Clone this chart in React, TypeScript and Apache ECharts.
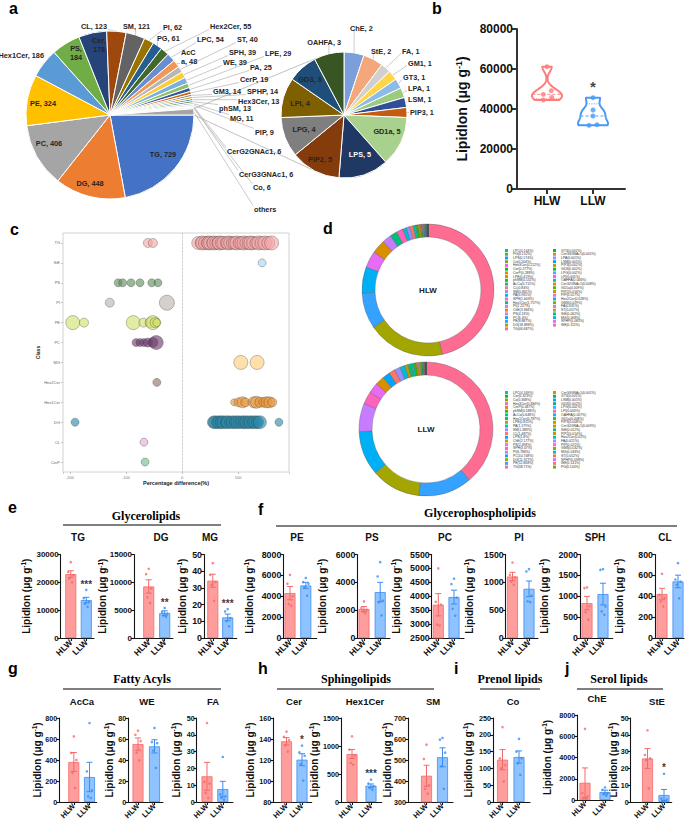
import React, { useEffect, useRef } from "react";
import * as echarts from "echarts";

const FONT = '"Liberation Sans", Arial, Helvetica, sans-serif';
const SERIF = '"Liberation Serif", "Times New Roman", serif';

// ================= DATA =================
// a. number of lipid species per class (pie of pie)
const pieClasses = ["TG","DG","PC","PE","Hex1Cer","PS","Cer","CL","SM","PI","PG","Hex2Cer","LPC","AcCa","ST","SPH","WE","LPE","PA","CerP","GM3","SPHP","Hex3Cer","phSM","MG","PIP","CerG2GNAc1","CerG3GNAc1","Co","others"];
const pieCounts = [729,448,406,324,186,184,178,123,121,62,61,55,54,48,40,39,39,29,25,19,14,14,13,13,11,9,6,6,6,39];
const subClasses = ["ChE","StE","FA","GM1","GT3","LPA","LSM","PIP3","GD1a","LPS","PIP2","LPG","LPI","GD3","OAHFA"];
const subCounts = [2,2,1,1,1,1,1,1,5,5,5,4,4,3,3];

// b. total lipid content
const groups = ["HLW","LLW"];
const totalHLW = [61150,49150,47330,45830,44500];
const totalLLW = [45670,39500,36500,32170,31830];
const totalTicks = [0,80000,20000];
const totalSig = "*";

// c. percentage difference per lipid species: [difference %, bubble size]
const diffClasses = ["TG","StE","PS","PI","PE","PC","MG","Hex2Cer","Hex1Cer","DG","CL","CerP"];
const bubTG = [[-61,9],[-52,9],[29,13],[34,12],[37,14],[41,13],[45,12],[48,14],[50,13],[55,12],[57,14],[61,13],[64,12],[67,14],[71,13],[74,13],[79,12],[83,14],[86,13],[90,12],[94,13],[98,14],[102,12],[106,13],[111,14],[114,12],[119,13],[123,14],[127,13],[132,12],[137,14],[142,13],[148,14],[154,13],[160,14]];
const bubStE = [[143,8]];
const bubPS = [[-114,8],[-106,8],[-91,8],[-75,8],[-54,8],[-43,8]];
const bubPI = [[-129,9],[-27,15]];
const bubPE = [[-195,14],[-175,9],[-87,14],[-69,9],[-57,10],[-52,14],[-48,10],[-45,8]];
const bubPC = [[-82,8],[-75,8],[-68,8],[-61,9],[-52,10],[-46,14]];
const bubMG = [[105,14],[134,14]];
const bubHex2Cer = [[-45,8]];
const bubHex1Cer = [[93,7],[101,9],[108,11],[113,9],[128,11],[133,12],[139,10],[146,10],[151,11],[156,11],[161,9]];
const bubDG = [[-191,8],[56,12],[59,13],[63,12],[67,13],[70,12],[74,13],[79,12],[82,13],[87,12],[91,13],[95,12],[99,13],[103,12],[108,13],[111,12],[115,13],[119,12],[123,13],[127,12],[131,13],[135,12],[139,13],[173,8]];
const bubCL = [[-68,8]];
const bubCerP = [[-66,8]];
const diffTicks = [-200,-100,0,100];

// d. composition (%) of lipid classes
const hlwNames = ["TG","DG","PE","PC","PS","ChE","PI","Hex1Cer","SPH","PA","SM","CL","AcCa","phSM","LPE","CerP","Cer","Hex3Cer","Co","LPS","PG","LPC","WE","SPHP","MG","StE","ST","FA","GM3","Hex2Cer","PIP","PIP2","GD1a","CerG2GNAc1","OAHFA","LPI","LPG","GD3","PIP3","LSM","LPA","CerG3GNAc1","GT3"];
const hlwPct = [46.687,18.888,8.887,6.4,4.13,3.384,2.227,1.757,1.603,0.935,0.861,0.84,0.715,0.532,0.419,0.288,0.277,0.212,0.204,0.174,0.152,0.144,0.111,0.085,0.068,0.062,0.057,0.031,0.029,0.028,0.017,0.016,0.009,0.008,0.006,0.005,0.002,0.002,0.002,0.001,0.001,0.001,0.001];
const llwNames = ["TG","PE","DG","PC","PI","SPH","PS","ChE","LPS","CL","SM","PA","LPE","Hex1Cer","AcCa","phSM","CerP","Hex3Cer","Co","Cer","LPC","PG","WE","SPHP","ST","MG","GM3","PIP","FA","Hex2Cer","PIP2","StE","CerG2GNAc1","PIP3","GD1a","OAHFA","LPI","LPG","GD3","LSM","GT3","CerG3GNAc1"];
const llwPct = [38.71,12.868,11.927,10.748,6.786,3.07,2.498,2.177,1.8,1.487,1.383,1.179,0.811,0.787,0.648,0.588,0.467,0.384,0.368,0.323,0.169,0.144,0.141,0.098,0.052,0.033,0.032,0.021,0.021,0.02,0.014,0.012,0.009,0.008,0.008,0.007,0.003,0.002,0.002,0.001,0.001,0.001];

// e-j. lipid classes, mean ± SEM with individual samples
const barClasses = ["TG","DG","MG","PE","PS","PC","PI","SPH","CL","AcCa","WE","FA","Cer","Hex1Cer","SM","Co","ChE","StE"];
const hlwMean = [22950,9260,34.3,4300,2080,3695,1105,837,421,381,55.2,15.3,137.8,857,425,126,1619,25.9];
const hlwSem = [1200,1200,3.9,640,180,400,75,160,55,90,5.8,8.3,3.5,80,50,30,1400,5.9];
const llwMean = [13625,4480,12.35,5035,3300,3970,884,1052,542,238,53,7.7,120.3,292,513,134,747,4.15];
const llwSem = [1000,400,2,300,700,250,140,260,60,140,6.3,4.6,5.7,30,45,18,180,3.3];
const hlwDots = [
  [27250,23700,22600,21300,20000],[12430,11470,8900,7300,6270],[44.8,37.8,33.5,31.9,22.3],
  [6050,5200,4000,3250,3100],[2630,2150,2030,1910,1790],[5000,3800,3700,2980,2950],
  [1356,1135,1088,1016,956],[1210,1195,760,620,440],[615,414,382,350,303],
  [625,467,400,276,135],[67.9,64,58,47,39.7],[47,12,11,5.4,2.4],
  [147,142,139,134,128],[1173,935,827,696,667],[573,505,380,363,340],
  [223,130,110,100,61.5],[6700,650,350,200,150],[42.7,28,26,25,8.1],
];
const llwDots = [
  [17300,14300,13000,12300,11200],[5400,4700,4400,4000,3800],[17.3,15.9,12,10,7],
  [5750,5350,5200,4850,4050],[5450,4420,2680,2580,1625],[4630,4440,3950,3550,3300],
  [1237,1195,760,660,645],[1650,1633,757,637,558],[717,560,540,510,380],
  [752,292,111,54,38],[70.5,57,56,49,32.4],[26.8,4.5,3.4,2.4,1.4],
  [133.7,127.3,124,116,100.3],[399,327,280,250,220],[605,597,535,470,363],
  [188,150,130,115,81],[1180,950,650,550,400],[16.8,2,1.5,0.5,0.2],
];
const sigMarks = ["***","**","***","","","","","","","","","","*","***","","","","*"];
const axisMin = [0,0,0,0,0,2500,0,0,0,0,0,0,80,0,300,0,0,0];
const axisMax = [30000,15000,50,8000,6000,5500,1500,2000,800,800,80,50,160,1500,700,250,8000,50];
const axisStep = [10000,5000,10,2000,2000,500,500,500,200,200,20,10,20,500,100,50,2000,10];

// ================= STYLE / LAYOUT =================
const pieColors = ["#4472C4","#ED7D31","#A5A5A5","#FFC000","#5B9BD5","#70AD47","#264478","#9E480E","#636363","#997300","#255E91","#43682B","#698ED0","#F1975A","#B7B7B7","#FFCD33","#7CAFDD","#8CC168","#335AA1","#D26012","#848484","#CC9A00","#327DC2","#5A8A39","#8FAADC","#F4B183","#C9C9C9","#FFD966","#9DC3E6","#A5A5A5"];
const subColors = ["#7A9FDB","#F4A77A","#D0D0D0","#FFD54A","#8DBBE8","#9CCB7D","#2F4F96","#C55A11","#A9D18E","#1F3864","#843C0C","#7F7F7F","#7F6000","#1F4E79","#375623"];
const diffColors = ["#F4A7A7","#A8D6F2","#5E8E5A","#BBB3AE","#D2E06C","#6A3A6A","#FFCB76","#8E6F66","#E9973B","#2A88A8","#E3A9D6","#6DBF88"];
const shareColor: Record<string, string> = {
  TG:"#FF6C91", DG:"#A3A500", PE:"#35A2FF", PC:"#00B0F6", PS:"#E76BF3", ChE:"#D89000", PI:"#C77CFF",
  Hex1Cer:"#00BF7D", SPH:"#FF62BC", PA:"#00BCD8", SM:"#9590FF", CL:"#F8766D", AcCa:"#00C1A3", phSM:"#39B600",
  LPE:"#BB9D00", CerP:"#E58700", Cer:"#00BA38", Hex3Cer:"#FD61D1", Co:"#7CAE00", LPS:"#00A5FF", PG:"#6BB100",
  LPC:"#00BFC4", WE:"#FF6A98", SPHP:"#DC71FA", MG:"#00B8E7", StE:"#00C08B", ST:"#E88526", FA:"#B385FF",
  GM3:"#8AAB00", Hex2Cer:"#00C0B8", PIP:"#EF67EB", PIP2:"#C09B00", GD1a:"#5EB300", CerG2GNAc1:"#D39200",
  OAHFA:"#00B6EB", LPI:"#FF64B0", LPG:"#4DA8FF", GD3:"#00BD5C", PIP3:"#C49A00", LSM:"#06A4FF", LPA:"#9F8CFF",
  CerG3GNAc1:"#DE8C00", GT3:"#00BB4E",
};
const HLW_FILL = "#FF9C9C", HLW_LINE = "#F46A6A", LLW_FILL = "#8EC3FF", LLW_LINE = "#3C8DF0";
const VIO_HLW = "#FF7C7C", VIO_LLW = "#4B9BF5";
const AX = "#151515";

const PIE_A = { cx: 110, cy: 115, r: 84 };
const PIE_B = { cx: 344, cy: 115, r: 63 };
const mainLabelAt: Record<string, [number, number, string]> = {
  TG:[163,154,"center"], DG:[90,183,"center"], PC:[49,143,"center"], PE:[43,103,"center"],
  Hex1Cer:[44,55,"right"], PS:[76,53,"center"], Cer:[99,45,"center"], CL:[107,26,"right"],
  SM:[123,26,"left"], PI:[163,27,"left"], PG:[157,38,"left"], Hex2Cer:[210,26,"left"], LPC:[197,39,"left"],
  AcCa:[181,57,"left"], ST:[237,39,"left"], SPH:[229,52,"left"], LPE:[265,53,"left"], WE:[223,62,"left"],
  PA:[250,67,"left"], CerP:[240,79,"left"], GM3:[213,91,"left"], SPHP:[247,91,"left"], Hex3Cer:[238,101,"left"],
  phSM:[219,108,"left"], MG:[230,118,"left"], PIP:[255,132,"left"], CerG2GNAc1:[227,151,"left"],
  CerG3GNAc1:[239,174,"left"], Co:[253,187,"left"], others:[254,209,"left"],
};
const subLabelAt: Record<string, [number, number, string]> = {
  ChE:[350,28,"left"], StE:[371,51,"left"], FA:[402,51,"left"], GM1:[408,63,"left"], GT3:[403,77,"left"],
  LPA:[408,88,"left"], LSM:[408,99,"left"], PIP3:[410,112,"left"], GD1a:[387,131,"center"], LPS:[360,154,"center"],
  PIP2:[320,159,"center"], LPG:[304,129,"center"], LPI:[300,103,"center"], GD3:[310,79,"center"], OAHFA:[341,42,"right"],
};
const noLine = new Set(["Hex1Cer"]);

// [y-axis x, HLW centre, LLW centre, x-axis end, axis-name centre x, subtitle x]
const barLayout = [
  [60.7,70.8,86.3,94,27,78],[134,148.7,164.7,173,103.5,161],[204,212.8,227.7,236.7,183,210],
  [283.3,290,305.8,316.7,250,297],[357.3,364,380.2,390,323,372],[431.7,438.3,454,464,397,445],
  [505.7,512.5,529,538,470,519],[580,587,603,612.7,545,595],[655,662,678,684,620,665],
  [59.3,73.8,89.5,96.7,38,82],[128.3,138,154.5,163,110,147],[196.7,207,222.8,233,177,213],
  [273.3,286.5,302,311.7,251,294],[341,352,371,381.7,315,365],[408,426.5,442.5,453,388,433],
  [493,502.5,519,530,469,513],[577.3,585,605,613,548,597],[630.7,647.5,664,671.7,614,657],
];
const dotJit = [0,-2.6,2.6,-1.3,1.3];
const vioJitHLW = [0,4.3,-3.7,4.7,-3.7];
const vioJitLLW = [0,0,0,4,-4];
const BW = 2500;
const HALF = 15;

// ================= HELPERS =================
const sum = (a: number[]) => a.reduce((s, v) => s + v, 0);
const plain = (v: number) => String(v);
const midAngles = (vals: number[], startDeg: number) => {
  const tot = sum(vals);
  let acc = 0;
  return vals.map((v) => {
    const m = startDeg + ((acc + v / 2) / tot) * 360;
    acc += v;
    return (m * Math.PI) / 180;
  });
};
const kde = (vals: number[], v: number) => vals.reduce((s, x) => s + Math.exp(-0.5 * ((v - x) / BW) ** 2), 0);
const quart = (vals: number[]) => {
  const s = [...vals].sort((a, b) => a - b);
  const n = s.length;
  const at = (p: number) => {
    const pos = p * (n + 1) - 1;
    const lo = Math.max(0, Math.min(n - 1, Math.floor(pos)));
    const hi = Math.max(0, Math.min(n - 1, Math.ceil(pos)));
    return s[lo] + (s[hi] - s[lo]) * (pos - Math.floor(pos));
  };
  return [at(0.25), at(0.5), at(0.75)];
};
const txt = (text: string, x: number, y: number, font: string, align = "left", color = "#000") => ({
  type: "text", x, y, silent: true,
  style: { text, font, fill: color, textAlign: align, align, textVerticalAlign: "middle", verticalAlign: "middle" },
});
const hline = (x1: number, x2: number, y: number, w = 1.2) => ({
  type: "line", silent: true, shape: { x1, y1: y, x2, y2: y }, style: { stroke: "#000", lineWidth: w },
});

function pieLabelLayout(names: string[], mids: number[], geo: any, table: Record<string, [number, number, string]>) {
  return (p: any) => {
    const name = names[p.dataIndex];
    const pos = table[name];
    if (!pos) return {};
    const [x, y, align] = pos;
    const out: any = { x, y, align, verticalAlign: "middle" };
    if (align !== "center" && !noLine.has(name)) {
      const a = mids[p.dataIndex];
      const ex = geo.cx + geo.r * Math.cos(a);
      const ey = geo.cy + geo.r * Math.sin(a);
      const w = p.labelRect.width, h = p.labelRect.height;
      const left = align === "left" ? x : x - w;
      const lx = Math.min(Math.max(ex, left - 1), left + w + 1);
      const ly = Math.min(Math.max(ey, y - h / 2 + 1), y + h / 2 - 1);
      out.labelLinePoints = [[ex, ey], [(ex + lx) / 2, (ey + ly) / 2], [lx, ly]];
    }
    return out;
  };
}

function tangent(px: number, py: number, c: any, upper: boolean) {
  const dx = px - c.cx, dy = py - c.cy;
  const d = Math.hypot(dx, dy);
  const phi = Math.atan2(dy, dx);
  const al = Math.acos(c.r / d);
  const a = upper ? phi + al : phi - al;
  return [c.cx + c.r * Math.cos(a), c.cy + c.r * Math.sin(a)];
}

function buildOption() {
  const grid: any[] = [], xAxis: any[] = [], yAxis: any[] = [], series: any[] = [], graphic: any[] = [], legend: any[] = [];

  // ---------- d: donuts (first, so legends take their colours) ----------
  const donut = (names: string[], vals: number[], center: number[], radius: number[]) => ({
    type: "pie", center, radius, startAngle: 90, clockwise: true, silent: true, avoidLabelOverlap: false,
    label: { show: false }, labelLine: { show: false }, emphasis: { disabled: true },
    itemStyle: { borderColor: "#555", borderWidth: 0.35 },
    data: names.map((n, i) => ({ name: n, value: vals[i], itemStyle: { color: shareColor[n] } })),
  });
  series.push(donut(hlwNames, hlwPct, [428, 290], [53, 66]));
  series.push(donut(llwNames, llwPct, [426, 429], [54, 67]));
  const mapOf = (names: string[], vals: number[]) => { const m: Record<string, number> = {}; names.forEach((n, i) => (m[n] = vals[i])); return m; };
  const hlwMap = mapOf(hlwNames, hlwPct), llwMap = mapOf(llwNames, llwPct);
  const legendCol = (left: number, top: number, names: string[], m: Record<string, number>) => ({
    orient: "vertical", left, top, padding: 0, itemWidth: 3, itemHeight: 3, itemGap: 0.73, icon: "rect",
    selectedMode: false, data: names,
    itemStyle: { borderWidth: 0 },
    textStyle: { fontSize: 3.4, lineHeight: 3, fontFamily: FONT, color: "#333" },
    formatter: (n: string) => `${n}(${m[n]}%)`,
  });
  legend.push(legendCol(505, 249, hlwNames.slice(0, 22).reverse(), hlwMap));
  legend.push(legendCol(553, 249, hlwNames.slice(22).reverse(), hlwMap));
  legend.push(legendCol(505, 391, llwNames.slice(0, 21).reverse(), llwMap));
  legend.push(legendCol(553, 391, llwNames.slice(21).reverse(), llwMap));
  graphic.push(txt("HLW", 428, 290, `bold 8px ${FONT}`, "center", "#222"));
  graphic.push(txt("LLW", 426, 429, `bold 8px ${FONT}`, "center", "#222"));

  // ---------- a: pie of pie ----------
  const mainMids = midAngles(pieCounts, 0);
  const insideMain = new Set(["TG","DG","PC","PE","PS","Cer"]);
  series.push({
    type: "pie", center: [PIE_A.cx, PIE_A.cy], radius: PIE_A.r, startAngle: 0, clockwise: true, silent: true,
    avoidLabelOverlap: false, emphasis: { disabled: true },
    itemStyle: { borderColor: "#fff", borderWidth: 1 },
    label: {
      show: true, fontFamily: FONT, fontSize: 7.3, fontWeight: "bold", color: "#262626", lineHeight: 9,
      formatter: (p: any) => {
        if (p.name === "others") return "others";
        if (p.name === "AcCa") return `AcC\na, ${p.value}`;
        if (p.name === "PS" || p.name === "Cer") return `${p.name},\n${p.value}`;
        return `${p.name}, ${p.value}`;
      },
    },
    labelLine: { show: true, length: 4, length2: 4, lineStyle: { color: "#A6A6A6", width: 0.6 } },
    labelLayout: pieLabelLayout(pieClasses, mainMids, PIE_A, mainLabelAt),
    data: pieClasses.map((n, i) => ({
      name: n, value: pieCounts[i], itemStyle: { color: pieColors[i] },
      label: insideMain.has(n) ? { position: "inside" } : { position: "outside" },
      labelLine: { show: !insideMain.has(n) && !noLine.has(n) },
    })),
  });
  const subMids = midAngles(subCounts, -90);
  const insideSub = new Set(["GD1a","LPS","PIP2","LPG","LPI","GD3"]);
  series.push({
    type: "pie", center: [PIE_B.cx, PIE_B.cy], radius: PIE_B.r, startAngle: 90, clockwise: true, silent: true,
    avoidLabelOverlap: false, emphasis: { disabled: true },
    itemStyle: { borderColor: "#fff", borderWidth: 1 },
    label: { show: true, fontFamily: FONT, fontSize: 7.3, fontWeight: "bold", color: "#262626", formatter: "{b}, {c}" },
    labelLine: { show: true, length: 4, length2: 4, lineStyle: { color: "#A6A6A6", width: 0.6 } },
    labelLayout: pieLabelLayout(subClasses, subMids, PIE_B, subLabelAt),
    data: subClasses.map((n, i) => ({
      name: n, value: subCounts[i], itemStyle: { color: subColors[i] },
      label: insideSub.has(n) ? { position: "inside", color: n === "LPS" ? "#fff" : "#262626" } : { position: "outside" },
      labelLine: { show: !insideSub.has(n) },
    })),
  });
  // connector lines from "others" slice to the secondary pie
  const tot = sum(pieCounts);
  const oStart = ((tot - pieCounts[pieCounts.length - 1]) / tot) * 2 * Math.PI;
  const p1 = [PIE_A.cx + PIE_A.r * Math.cos(oStart), PIE_A.cy + PIE_A.r * Math.sin(oStart)];
  const p2 = [PIE_A.cx + PIE_A.r, PIE_A.cy];
  const t1 = tangent(p1[0], p1[1], PIE_B, true);
  const t2 = tangent(p2[0], p2[1], PIE_B, false);
  graphic.push({ type: "line", silent: true, z: -1, shape: { x1: p1[0], y1: p1[1], x2: t1[0], y2: t1[1] }, style: { stroke: "#A6A6A6", lineWidth: 0.7 } });
  graphic.push({ type: "line", silent: true, z: -1, shape: { x1: p2[0], y1: p2[1], x2: t2[0], y2: t2[1] }, style: { stroke: "#A6A6A6", lineWidth: 0.7 } });

  // ---------- b: violin ----------
  {
    const ax = 517, c1 = 547, c2 = 593, ex = 625, sp = c2 - c1;
    const gi = grid.length;
    grid.push({ left: ax, top: 29, width: ex - ax, height: 160, outerBoundsMode: "none", containLabel: false });
    xAxis.push({
      gridIndex: gi, type: "value", min: 1 - (c1 - ax) / sp, max: 2 + (ex - c2) / sp,
      axisLine: { show: true, onZero: false, lineStyle: { color: "#333", width: 2 } },
      axisTick: { show: true, customValues: [1, 2], length: 5, lineStyle: { color: "#333", width: 2 } },
      axisLabel: { show: true, customValues: [1, 2], formatter: (v: number) => groups[Math.round(v) - 1] || "", fontSize: 12, fontWeight: "bold", color: "#111", margin: 6, fontFamily: FONT },
      splitLine: { show: false },
    });
    yAxis.push({
      gridIndex: gi, type: "value", min: totalTicks[0], max: totalTicks[1], interval: totalTicks[2],
      axisLine: { show: true, onZero: false, lineStyle: { color: "#333", width: 2 } },
      axisTick: { show: true, length: 5, lineStyle: { color: "#333", width: 2 } },
      axisLabel: { fontSize: 12, fontWeight: "bold", color: "#111", margin: 4, fontFamily: FONT, formatter: plain },
      splitLine: { show: false },
      name: "LipidIon (μg g{s|-1})", nameLocation: "middle", nameGap: 47, nameRotate: 90, nameMoveOverlap: false,
      nameTextStyle: { fontSize: 14, fontWeight: "bold", color: "#111", fontFamily: FONT, lineHeight: 16,
        rich: { s: { fontSize: 9, fontWeight: "bold", fontFamily: FONT, color: "#111", verticalAlign: "top" } } },
    });
    const sets = [totalHLW, totalLLW];
    series.push({
      type: "custom", xAxisIndex: gi, yAxisIndex: gi, silent: true, z: 3,
      data: groups.map((g, k) => [k + 1, Math.min(...sets[k])]),
      encode: { x: 0, y: 1 },
      renderItem: (params: any, api: any) => {
        const gx = api.value(0);
        const vals = sets[gx - 1];
        const color = gx === 1 ? VIO_HLW : VIO_LLW;
        const lo = Math.min(...vals), hi = Math.max(...vals);
        const N = 60;
        const dens: number[] = [];
        for (let k = 0; k <= N; k++) dens.push(kde(vals, lo + ((hi - lo) * k) / N));
        const maxD = Math.max(...dens);
        const R: number[][] = [], L: number[][] = [];
        for (let k = 0; k <= N; k++) {
          const p = api.coord([gx, lo + ((hi - lo) * k) / N]);
          const w = (dens[k] / maxD) * HALF;
          R.push([p[0] + w, p[1]]);
          L.push([p[0] - w, p[1]]);
        }
        const pts = R.concat(L.reverse());
        const [q1, med, q3] = quart(vals);
        const qline = (v: number, dash: number[]) => {
          const p = api.coord([gx, v]);
          const w = (kde(vals, v) / maxD) * HALF;
          return { type: "line", shape: { x1: p[0] - w, y1: p[1], x2: p[0] + w, y2: p[1] }, style: { stroke: color, lineWidth: 0.9, lineDash: dash } };
        };
        return {
          type: "group",
          children: [
            { type: "polygon", shape: { points: pts }, style: { fill: "rgba(255,255,255,0)", stroke: color, lineWidth: 2, lineJoin: "round" } },
            qline(med, [3, 2]), qline(q1, [1, 1.5]), qline(q3, [1, 1.5]),
          ],
        };
      },
    });
    series.push({
      type: "scatter", xAxisIndex: gi, yAxisIndex: gi, symbolSize: 5, silent: true, z: 4,
      data: [
        ...totalHLW.map((v, k) => ({ value: [1 + vioJitHLW[k] / sp, v], itemStyle: { color: VIO_HLW } })),
        ...totalLLW.map((v, k) => ({ value: [2 + vioJitLLW[k] / sp, v], itemStyle: { color: VIO_LLW } })),
      ],
    });
    series.push({
      type: "scatter", xAxisIndex: gi, yAxisIndex: gi, symbolSize: 0.1, silent: true, z: 5,
      itemStyle: { color: "rgba(0,0,0,0)" },
      data: [[2, Math.max(...totalLLW) + (totalTicks[1] - totalTicks[0]) * 0.07]],
      label: { show: true, position: "inside", formatter: totalSig, fontSize: 15, fontWeight: "bold", color: "#111", fontFamily: FONT },
    });
  }

  // ---------- c: bubble plot ----------
  {
    const gi = grid.length;
    grid.push({ left: 63, top: 233, width: 226, height: 239, show: true, borderColor: "#c6c6c6", borderWidth: 0.8, outerBoundsMode: "none", containLabel: false });
    xAxis.push({
      gridIndex: gi, type: "value", min: -212.5, max: 191,
      axisLine: { show: false, onZero: false },
      axisTick: { show: true, length: 2, lineStyle: { color: "#999", width: 0.5 } },
      axisLabel: { fontSize: 4, color: "#777", margin: 3, fontFamily: FONT, formatter: (v: number) => (diffTicks.includes(v) ? String(v) : "") },
      splitLine: { show: false },
      name: "Percentage difference(%)", nameLocation: "middle", nameGap: 8, nameMoveOverlap: false,
      nameTextStyle: { fontSize: 5.5, fontWeight: "bold", color: "#222", fontFamily: FONT },
    });
    yAxis.push({
      gridIndex: gi, type: "category", data: diffClasses, inverse: true,
      axisLine: { show: false, onZero: false },
      axisTick: { show: true, alignWithLabel: true, length: 2, lineStyle: { color: "#999", width: 0.5 } },
      axisLabel: { fontSize: 4, color: "#666", margin: 3, fontFamily: FONT },
      name: "Class", nameLocation: "middle", nameGap: 23, nameMoveOverlap: false,
      nameTextStyle: { fontSize: 5, fontWeight: "bold", color: "#222", fontFamily: FONT },
    });
    const bubbles = [bubTG, bubStE, bubPS, bubPI, bubPE, bubPC, bubMG, bubHex2Cer, bubHex1Cer, bubDG, bubCL, bubCerP];
    bubbles.forEach((pts, k) => {
      series.push({
        type: "scatter", xAxisIndex: gi, yAxisIndex: gi, silent: true,
        data: pts.map((p) => [p[0], diffClasses[k], p[1]]),
        symbolSize: (d: any) => d[2],
        itemStyle: { color: diffColors[k], opacity: 0.62, borderColor: "#333", borderWidth: 0.5 },
        markLine: k === 0 ? { silent: true, symbol: ["none", "none"], label: { show: false }, lineStyle: { type: "dotted", color: "#999", width: 0.7 }, data: [{ xAxis: 0 }] } : undefined,
      });
    });
  }

  // ---------- e-j: bar charts ----------
  barClasses.forEach((cls, i) => {
    const [ax, c1, c2, ex, nx, tx] = barLayout[i];
    const row2 = i >= 9;
    const top = cls === "ChE" ? 715 : row2 ? 718 : 554.5;
    const h = cls === "ChE" ? 85 : row2 ? 84 : 83.5;
    const sp = c2 - c1;
    const gi = grid.length;
    const tickFont = row2 ? 7.2 : String(axisMax[i]).length >= 5 ? 8 : 8.8;
    const xFont = row2 ? 7.6 : 8.5;
    grid.push({ left: ax, top, width: ex - ax, height: h, outerBoundsMode: "none", containLabel: false });
    xAxis.push({
      gridIndex: gi, type: "value", min: 1 - (c1 - ax) / sp, max: 2 + (ex - c2) / sp,
      axisLine: { show: true, onZero: false, lineStyle: { color: AX, width: 1.1 } },
      axisTick: { show: true, customValues: [1, 2], length: 3, lineStyle: { color: AX, width: 1.1 } },
      axisLabel: { show: true, customValues: [1, 2], formatter: (v: number) => groups[Math.round(v) - 1] || "", rotate: 45, fontSize: xFont, fontWeight: "bold", color: "#111", margin: 3, fontFamily: FONT },
      splitLine: { show: false },
    });
    yAxis.push({
      gridIndex: gi, type: "value", min: axisMin[i], max: axisMax[i], interval: axisStep[i],
      axisLine: { show: true, onZero: false, lineStyle: { color: AX, width: 1.1 } },
      axisTick: { show: true, length: 3, lineStyle: { color: AX, width: 1.1 } },
      axisLabel: { fontSize: tickFont, fontWeight: "bold", color: "#111", margin: 2, fontFamily: FONT, formatter: plain },
      splitLine: { show: false },
      name: "LipidIon (μg g{s|-1})", nameLocation: "middle", nameGap: ax - nx - 5, nameRotate: 90, nameMoveOverlap: false,
      nameTextStyle: { fontSize: 10, fontWeight: "bold", color: "#111", fontFamily: FONT, lineHeight: 12,
        rich: { s: { fontSize: 6.5, fontWeight: "bold", fontFamily: FONT, color: "#111", verticalAlign: "top" } } },
    });
    series.push({
      type: "bar", xAxisIndex: gi, yAxisIndex: gi, barWidth: 11, silent: true, z: 2,
      data: [
        { value: [1, hlwMean[i]], itemStyle: { color: HLW_FILL, borderColor: HLW_LINE, borderWidth: 0.8 } },
        { value: [2, llwMean[i]], itemStyle: { color: LLW_FILL, borderColor: LLW_LINE, borderWidth: 0.8 } },
      ],
    });
    series.push({
      type: "custom", xAxisIndex: gi, yAxisIndex: gi, silent: true, z: 3,
      data: [[1, hlwMean[i], hlwSem[i]], [2, llwMean[i], llwSem[i]]],
      encode: { x: 0, y: 1 },
      renderItem: (params: any, api: any) => {
        const x = api.value(0), m = api.value(1), s = api.value(2);
        const t = api.coord([x, m + s]);
        const b = api.coord([x, m - s]);
        const color = x === 1 ? HLW_LINE : LLW_LINE;
        const st = { stroke: color, lineWidth: 1 };
        return {
          type: "group",
          children: [
            { type: "line", shape: { x1: t[0], y1: t[1], x2: b[0], y2: b[1] }, style: st },
            { type: "line", shape: { x1: t[0] - 3, y1: t[1], x2: t[0] + 3, y2: t[1] }, style: st },
            { type: "line", shape: { x1: b[0] - 3, y1: b[1], x2: b[0] + 3, y2: b[1] }, style: st },
          ],
        };
      },
    });
    series.push({
      type: "scatter", xAxisIndex: gi, yAxisIndex: gi, symbolSize: 2.6, silent: true, z: 4,
      data: [
        ...hlwDots[i].map((v, k) => ({ value: [1 + dotJit[k] / sp, v], itemStyle: { color: HLW_LINE } })),
        ...llwDots[i].map((v, k) => ({ value: [2 + dotJit[k] / sp, v], itemStyle: { color: LLW_LINE } })),
      ],
    });
    if (sigMarks[i]) {
      const topV = Math.max(...llwDots[i], llwMean[i] + llwSem[i]);
      series.push({
        type: "scatter", xAxisIndex: gi, yAxisIndex: gi, symbolSize: 0.1, silent: true, z: 5,
        itemStyle: { color: "rgba(0,0,0,0)" },
        data: [[2, topV + (axisMax[i] - axisMin[i]) * 0.07]],
        label: { show: true, position: "inside", formatter: sigMarks[i], fontSize: 10, fontWeight: "bold", color: "#000", fontFamily: FONT },
      });
    }
    const ty = cls === "ChE" ? 698 : row2 ? 701 : 537.5;
    graphic.push(txt(cls, tx, ty, `bold ${row2 ? 9.5 : 10}px ${FONT}`, "center", "#111"));
  });

  // ---------- panel letters, group titles ----------
  const L = `bold 16px ${FONT}`;
  [["a", 9, 8], ["b", 432, 8], ["c", 10, 229], ["d", 323, 228], ["e", 8, 507], ["f", 258, 509],
   ["g", 8, 668], ["h", 258, 668], ["i", 454, 668], ["j", 565, 668]].forEach(([t, x, y]: any) => graphic.push(txt(t, x, y, L)));
  const T = `bold 12px ${SERIF}`;
  graphic.push(txt("Glycerolipids", 146, 515.5, T, "center"));
  graphic.push(hline(63, 221, 525));
  graphic.push(txt("Glycerophospholipids", 480, 513, T, "center"));
  graphic.push(hline(276, 677, 526));
  graphic.push(txt("Fatty Acyls", 142, 679, T, "center"));
  graphic.push(hline(63, 221, 689));
  graphic.push(txt("Sphingolipids", 356, 679, T, "center"));
  graphic.push(hline(277, 434, 689));
  graphic.push(txt("Prenol lipids", 510, 679, T, "center"));
  graphic.push(hline(480, 540, 689));
  graphic.push(txt("Serol lipids", 619, 679, T, "center"));
  graphic.push(hline(577, 663, 689));

  return {
    animation: false,
    backgroundColor: "#fff",
    textStyle: { fontFamily: FONT },
    grid, xAxis, yAxis, series, legend,
    graphic: { elements: graphic },
  };
}

export default function App() {
  const ref = useRef<HTMLDivElement>(null);
  useEffect(() => {
    if (!ref.current) return;
    const chart = echarts.init(ref.current, null, { renderer: "svg", width: 685, height: 826 });
    chart.setOption(buildOption() as any);
    return () => chart.dispose();
  }, []);
  return <div ref={ref} style={{ position: "absolute", left: 0, top: 0, width: 685, height: 826, background: "#fff" }} />;
}
